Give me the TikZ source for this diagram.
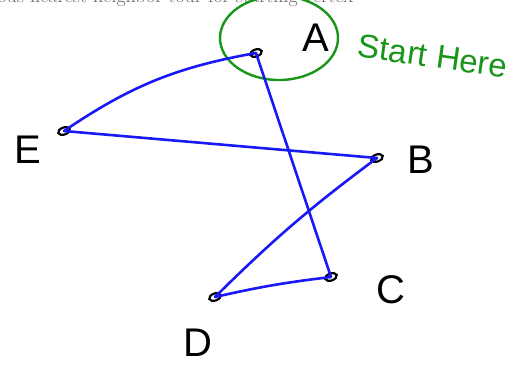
\documentclass[tikz,border=0pt]{standalone}
\usepackage{fontspec}
\setsansfont{Liberation Sans}
\usetikzlibrary{positioning,shapes.geometric}
\definecolor{tourblue}{RGB}{25,25,245}
\definecolor{notegreen}{RGB}{25,150,25}

\begin{document}
\begin{tikzpicture}[
                x=1pt, y=-1pt,
                vertex/.style={
                        draw=black, ellipse, line width=2.2pt,
                        minimum width=12pt, minimum height=7pt,
                        inner sep=0pt, rotate=20
                    },
                letter/.style={font=\sffamily\fontsize{40}{40}\selectfont},
                note/.style={text=notegreen, font=\sffamily\fontsize{33}{33}\selectfont, inner sep=1pt},
                tour/.style={tourblue, line width=2.6pt, line cap=round}
                ]
                \useasboundingbox (0,0) rectangle (516,365);

                % cut-off line of text above the sketch
                \begin{scope}
                    \clip (0,0) rectangle (516,8);
                    \node[anchor=base west, font=\fontsize{20}{20}\selectfont, text=black!60] (heading)
                        at (-6,2.5) {ous nearest neighbor tour for starting vertex};
                \end{scope}

                \node[vertex] (a) at (256,53) {};
                \node[vertex] (e) at (64,131) {};
                \node[vertex] (b) at (377,158) {};
                \node[vertex] (c) at (331,277) {};
                \node[vertex] (d) at (215,297) {};

                \node[letter] (la) at (316,38) {A};
                \node[letter] (le) at (28,150) {E};
                \node[letter] (lb) at (421,160) {B};
                \node[letter] (lc) at (391,290) {C};
                \node[letter] (ld) at (198,343) {D};

                \node[draw=notegreen, line width=2.4pt, ellipse,
                      minimum width=118pt, minimum height=84pt] (ring) at (279,38) {};
                \node[note, rotate=-8] (start) at (433,56) {Start Here};

                \draw[tour] (e.center) to[bend left=12] (a.center);
                \draw[tour] (e.center) -- (b.center);
                \draw[tour] (b.center) to[bend right=4] (d.center);
                \draw[tour] (d.center) to[bend left=3] (c.center);
                \draw[tour] (c.center) -- (a.center);
            \end{tikzpicture}
\end{document}
